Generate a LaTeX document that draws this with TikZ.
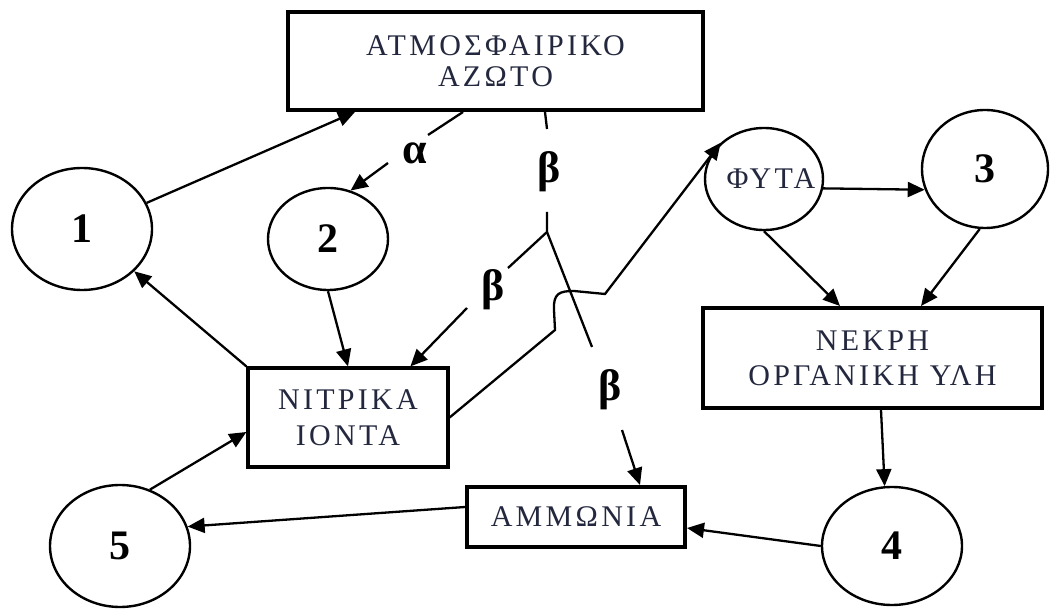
\documentclass[tikz,border=0pt]{standalone}
\usepackage{fontspec}
\setmainfont{Liberation Serif}
\newfontfamily\grfont[LetterSpace=11]{Liberation Serif}
\usetikzlibrary{shapes.geometric,arrows.meta,calc}
\newdimen\upx \upx=0.5pt
\definecolor{txt}{RGB}{36,40,62}
\tikzset{
  box/.style={draw, rectangle, inner sep=0pt, text=txt, align=center,
    font=\grfont\fontsize{15}{17.5}\selectfont},
  circ/.style={draw, ellipse, inner sep=0pt, line width=1.2pt,
    font=\bfseries\fontsize{21}{25}\selectfont},
  conn/.style={line width=1.15pt},
  arr/.style={conn, -{Triangle[length=8.5pt,width=7.5pt]}},
  lbl/.style={font=\bfseries\fontsize{22}{26}\selectfont, inner sep=0pt}
}
\begin{document}
\begin{tikzpicture}[x=0.5pt,y=-0.5pt]
\useasboundingbox (0,0) rectangle (1050,614);
% nodes
\node[box, minimum width=415\upx, minimum height=98\upx, line width=2pt,
  font=\grfont\fontsize{15}{15.5}\selectfont] (top) at (495.5,61) {ΑΤΜΟΣΦΑΙΡΙΚΟ\\ΑΖΩΤΟ};
\node[box, minimum width=339\upx, minimum height=100\upx, line width=2pt] (nekr) at (872.5,358) {ΝΕΚΡΗ\\ΟΡΓΑΝΙΚΗ ΥΛΗ};
\node[box, minimum width=200\upx, minimum height=99\upx, line width=1.6pt,
  font=\grfont\fontsize{15}{18}\selectfont] (nitr) at (348,417.5) {ΝΙΤΡΙΚΑ\\ΙΟΝΤΑ};
\node[box, minimum width=218\upx, minimum height=60\upx, line width=2pt] (ammo) at (576,517) {ΑΜΜΩΝΙΑ};
\node[circ, minimum width=140\upx, minimum height=122\upx] (one) at (82,229) {1};
\node[circ, minimum width=120\upx, minimum height=102\upx] (two) at (328,239) {2};
\node[circ, minimum width=118\upx, minimum height=102\upx, font=\grfont\fontsize{15}{17}\selectfont, text=txt] (fyta) at (764,179) {\makebox[0pt]{\hspace*{14\upx}ΦΥΤΑ}};
\node[circ, minimum width=126\upx, minimum height=118\upx] (three) at (985,169) {3};
\node[circ, minimum width=140\upx, minimum height=118\upx] (four) at (892,546) {4};
\node[circ, minimum width=140\upx, minimum height=122\upx] (five) at (120,546) {5};
% labels
\node[lbl] (alpha) at (415,153) {α};
\node[lbl] (beta1) at (549,172) {β};
\node[lbl] (beta2) at (493,290) {β};
\node[lbl] (beta3) at (610,390) {β};
% coordinates for broken lines
\coordinate (a1) at (428,135);
\coordinate (a2) at (388,163);
\coordinate (b0) at (547,129);
\coordinate (b1) at (547,212);
\coordinate (bj) at (547,232);
\coordinate (bl1) at (508,268);
\coordinate (bl2) at (467,308);
\coordinate (br1) at (592,347);
\coordinate (br2) at (622,430);
\coordinate (h1) at (555,330);
\coordinate (h2) at (554,310);
\coordinate (h3) at (574,291);
\coordinate (h4) at (605,294);
% connectors
\draw[arr] (one.22) -- ($(top.south west)+(69,0)$);
\draw[conn] ($(top.south west)+(177,0)$) -- (a1);
\draw[arr] (a2) -- (two.65);
\draw[conn] ($(top.south west)+(259,0)$) -- (b0);
\draw[conn] (b1) -- (bj) -- (bl1);
\draw[arr] (bl2) -- ($(nitr.north west)+(164,0)$);
\draw[conn] (bj) -- (br1);
\draw[arr] (br2) -- ($(ammo.north west)+(175,0)$);
\draw[arr] (two.south) -- (nitr.north);
\draw[arr] (nitr.north west) -- (one.-39);
\draw[arr] (five.62) -- ($(nitr.west)+(0,14.5)$);
\draw[arr] ($(ammo.west)+(0,-10)$) -- (five.16);
\draw[arr] (four.180) -- ($(ammo.east)+(0,11)$);
\draw[arr] ($(nekr.south west)+(180,0)$) -- (four.97);
\draw[arr] (fyta.-9.8) -- (three.-161.4);
\draw[arr] (fyta.south) -- ($(nekr.north west)+(139,0)$);
\draw[arr] (three.265) -- ($(nekr.north west)+(220,0)$);
\draw[arr] (nitr.east) -- (h1) -- (h2) .. controls (553,293) and (560,291) .. (h3) -- (h4) -- (fyta.140);
\end{tikzpicture}
\end{document}
